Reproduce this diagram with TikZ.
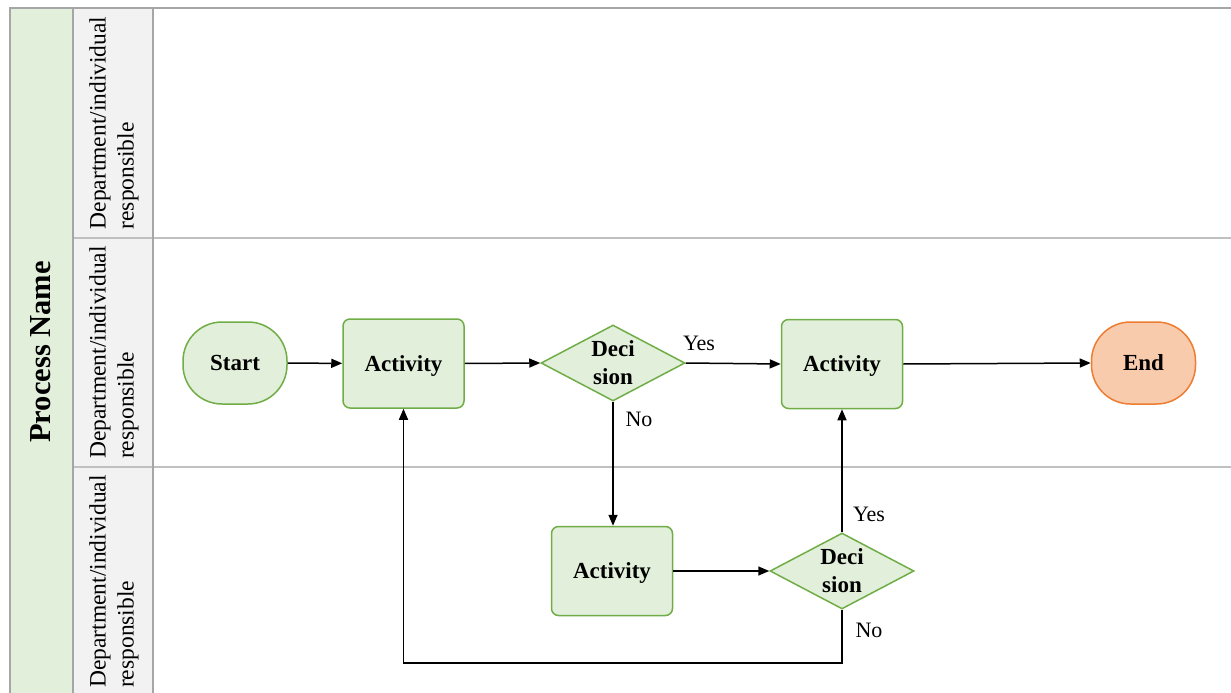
\documentclass[tikz,border=0pt]{standalone}
\usepackage{fontspec}
\setmainfont{Liberation Serif}
\usetikzlibrary{shapes.geometric,arrows.meta}
\definecolor{bandgreen}{HTML}{E2EFDA}
\definecolor{nodegreen}{HTML}{E2EFDA}
\definecolor{edgegreen}{HTML}{70AD47}
\definecolor{headgray}{HTML}{F2F2F2}
\definecolor{lanegray}{HTML}{C0C0C0}
\definecolor{framegray}{HTML}{A6A6A6}
\definecolor{endfill}{HTML}{F8CBAD}
\definecolor{endedge}{HTML}{ED7D31}
\begin{document}
\begin{tikzpicture}[x=1bp,y=-1bp,
  every node/.style={inner sep=0pt},
  lanetitle/.style={rotate=90,align=left,font=\fontsize{23.5bp}{28bp}\selectfont},
  proctitle/.style={rotate=90,font=\fontsize{30.5bp}{35bp}\selectfont\bfseries},
  nodetext/.style={font=\fontsize{23bp}{28bp}\selectfont\bfseries,align=center},
  terminal/.style={nodetext,draw=edgegreen,fill=nodegreen,line width=1.5bp,
    rounded corners=39bp,minimum width=104bp,minimum height=82bp,text depth=0pt},
  endterminal/.style={terminal,draw=endedge,fill=endfill},
  activity/.style={nodetext,draw=edgegreen,fill=nodegreen,line width=1.5bp,
    rounded corners=7bp,minimum width=121bp,minimum height=89bp,text depth=0pt},
  decision/.style={nodetext,diamond,draw=edgegreen,fill=nodegreen,line width=1.5bp,
    aspect=1.9,minimum width=144bp,minimum height=76bp},
  lbl/.style={font=\fontsize{22bp}{26bp}\selectfont},
  flow/.style={line width=1.5bp,-{Triangle[length=11bp,width=9bp]}}
]
\useasboundingbox (0,0) rectangle (1231,693);
\clip (0,0) rectangle (1231,693);

% swimlane frame
\fill[bandgreen] (10,8) rectangle (73,720);
\fill[headgray] (73,8) rectangle (153,720);
\draw[lanegray,line width=1.2bp] (73,238) -- (1240,238);
\draw[lanegray,line width=1.2bp] (73,467) -- (1240,467);
\draw[framegray,line width=1.2bp] (10,720) -- (10,8) -- (1240,8);
\draw[framegray,line width=1.2bp] (73,8) -- (73,720);
\draw[framegray,line width=1.2bp] (153,8) -- (153,720);

% titles
\node[proctitle] (proc) at (41,352) {Process Name};
\node[lanetitle] (lane1) at (114,123) {Department/individual\\responsible};
\node[lanetitle] (lane2) at (114,352.5) {Department/individual\\responsible};
\node[lanetitle] (lane3) at (114,581.5) {Department/individual\\responsible};

% flow nodes
\node[terminal] (start) at (235,363) {Start};
\node[activity] (act1) at (403.5,363.5) {Activity};
\node[decision] (dec1) at (613,363) {Deci\\sion};
\node[activity] (act2) at (842,364) {Activity};
\node[endterminal] (end) at (1143.5,363) {End};
\node[activity] (act3) at (612,571) {Activity};
\node[decision] (dec2) at (842,571) {Deci\\sion};

% connectors
\draw[flow] (start) -- (act1);
\draw[flow] (act1.east) -- (dec1.west);
\draw[flow] (dec1.east) -- (act2.west);
\draw[flow] (act2.east) -- (end.west);
\draw[flow] (dec1.south) -- (dec1.south |- act3.north);
\draw[flow] (act3.east) -- (dec2.west);
\draw[flow] (dec2.north) -- (act2.south);
\coordinate (loopR) at (842,663);
\coordinate (loopL) at (act1.south |- loopR);
\draw[flow] (dec2.south) -- (loopR) -- (loopL) -- (act1.south);

% branch labels
\node[lbl] (yes1) at (699,343) {Yes};
\node[lbl] (no1) at (639,419) {No};
\node[lbl] (yes2) at (869,514) {Yes};
\node[lbl] (no2) at (869,630) {No};
\end{tikzpicture}
\end{document}
